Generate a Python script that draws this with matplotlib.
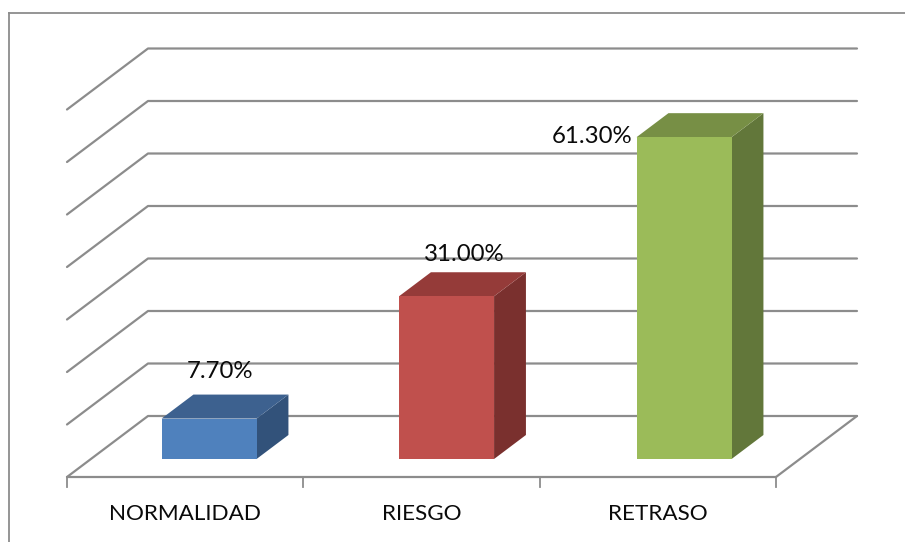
#!/usr/bin/env python3
"""Pseudo-3D bar chart, three categories, axis 0-70 % (hidden tick labels)."""
import matplotlib
matplotlib.use("Agg")
import matplotlib.pyplot as plt
from matplotlib.patches import Polygon

categories = ["NORMALIDAD", "RIESGO", "RETRASO"]
values = [7.7, 31.0, 61.3]
value_labels = ["7.70%", "31.00%", "61.30%"]
grid_values = [0, 10, 20, 30, 40, 50, 60, 70]

face_colors = ["#4f81bd", "#c0504d", "#9bbb59"]
top_colors = ["#3d618f", "#953b39", "#778f45"]
side_colors = ["#32527a", "#7a302e", "#62773a"]
GRID = "#8c8c8c"

W, H = 905, 542
# pixel placement of the value/category axes
X0, PX_PER_CAT = 67.0, 236.33
Y0, PX_PER_PCT = 477.0, 5.25
# depth of the floor in data units
DEPTH_X = 81.0 / PX_PER_CAT
DEPTH_Y = 61.0 / PX_PER_PCT
BAR_W = 95.0 / PX_PER_CAT
BAR_STEP = 237.5 / PX_PER_CAT
D_FRONT, D_BACK = 18.0 / 61.0, 42.0 / 61.0


def proj(cat, val, depth=0.0):
    return cat + depth * DEPTH_X, val + depth * DEPTH_Y


fig = plt.figure(figsize=(W / 100, H / 100), dpi=100)
ax = fig.add_axes([0, 0, 1, 1])
ax.set_xlim(-X0 / PX_PER_CAT, (W - X0) / PX_PER_CAT)
ax.set_ylim((Y0 - H) / PX_PER_PCT, Y0 / PX_PER_PCT)
ax.axis("off")

fonts = ["Lato", "DejaVu Sans"]
line = dict(color=GRID, lw=1.6, solid_capstyle="round", zorder=1)

# outer chart border (top and left only are in frame)
xl = (9 - X0) / PX_PER_CAT
yt = (Y0 - 13) / PX_PER_PCT
ax.plot([xl, xl], [(Y0 - H) / PX_PER_PCT, yt], color=GRID, lw=1.3, zorder=1)
ax.plot([xl, (W - X0) / PX_PER_CAT], [yt, yt], color=GRID, lw=1.3, zorder=1)

# back wall and side-wall gridlines
n = len(categories)
for g in grid_values:
    xa, ya = proj(0, g)
    xb, yb = proj(0, g, 1.0)
    xc, yc = proj(n, g, 1.0)
    ax.plot([xa, xb, xc], [ya, yb, yc], **line)

# floor front edge, right edge, ticks
ax.plot([0, n], [0, 0], **line)
xb, yb = proj(n, 0, 1.0)
ax.plot([n, xb], [0, yb], **line)
for i in range(n + 1):
    ax.plot([i, i], [0, -10 / PX_PER_PCT], color=GRID, lw=1.3, zorder=1)

# bars
for i, v in enumerate(values):
    left = 0.5 + i * BAR_STEP - BAR_W / 2
    right = left + BAR_W
    f00, f10 = proj(left, 0, D_FRONT), proj(right, 0, D_FRONT)
    f01, f11 = proj(left, v, D_FRONT), proj(right, v, D_FRONT)
    b10, b01, b11 = proj(right, 0, D_BACK), proj(left, v, D_BACK), proj(right, v, D_BACK)
    ax.add_patch(Polygon([f10, b10, b11, f11], fc=side_colors[i], ec="none", zorder=3))
    ax.add_patch(Polygon([f01, f11, b11, b01], fc=top_colors[i], ec="none", zorder=3))
    ax.add_patch(Polygon([f00, f10, f11, f01], fc=face_colors[i], ec="none", zorder=4))
    ax.text(i + 0.5, -37 / PX_PER_PCT, categories[i], ha="center", va="center",
            fontsize=16.2, color="#0a0a0a", family=fonts)

# data labels, placed by hand as in the reference
label_px = [(219.5, 371), (464, 254), (592, 136)]
for (px, py), s in zip(label_px, value_labels):
    ax.text((px - X0) / PX_PER_CAT, (Y0 - py) / PX_PER_PCT, s, ha="center", va="center",
            fontsize=17.3, color="#0a0a0a", family=fonts, zorder=5)

fig.savefig("out.png", dpi=100, facecolor="white")
